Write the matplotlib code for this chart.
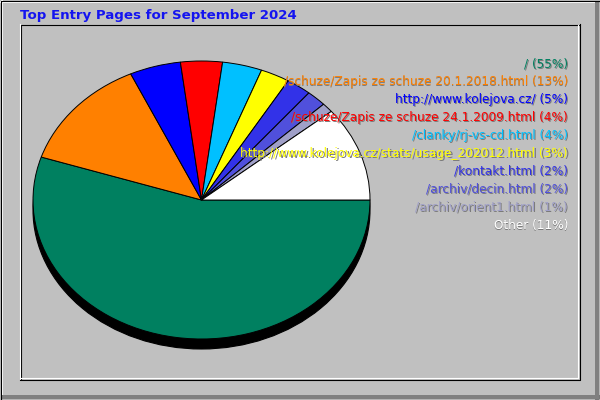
import matplotlib
matplotlib.use("Agg")
import matplotlib.pyplot as plt
from matplotlib.patches import Rectangle, Ellipse

# data
pages = ["/", "/schuze/Zapis ze schuze 20.1.2018.html", "http://www.kolejova.cz/",
         "/schuze/Zapis ze schuze 24.1.2009.html", "/clanky/rj-vs-cd.html",
         "http://www.kolejova.cz/stats/usage_202012.html", "/kontakt.html",
         "/archiv/decin.html", "/archiv/orient1.html", "Other"]
shares = [55.0, 13.1, 4.9, 4.0, 3.8, 2.8, 2.4, 1.9, 1.1, 11.0]
title = "Top Entry Pages for September 2024"

colors = ["#008060", "#FF8000", "#0000FF", "#FF0000", "#00C0FF",
          "#FFFF00", "#3232E8", "#5050DC", "#A0A0C8", "#FFFFFF"]

W, H = 600, 400
fig = plt.figure(figsize=(6, 4), dpi=100)
fig.patch.set_facecolor("#C0C0C0")

bg = fig.add_axes([0, 0, 1, 1])
bg.set_xlim(0, W)
bg.set_ylim(H, 0)
bg.axis("off")

# outer 3d frame
bg.add_patch(Rectangle((0, 0), W, H, facecolor="#C0C0C0", edgecolor="none"))
bg.add_patch(Rectangle((0, 1), W - 1, 1.5, facecolor="white", edgecolor="none"))
bg.add_patch(Rectangle((1, 0), 1.5, H - 1, facecolor="white", edgecolor="none"))
bg.add_patch(Rectangle((595, 2), 4, H - 2, facecolor="#808080", edgecolor="none"))
bg.add_patch(Rectangle((2, 395), W - 2, 4, facecolor="#808080", edgecolor="none"))
bg.plot([0.5, W - 0.5, W - 0.5, 0.5, 0.5], [0.5, 0.5, H - 0.5, H - 0.5, 0.5],
        color="black", lw=0.8)

# inner panel
bg.plot([20.5, 20.5, 578.5], [378.5, 24.5, 24.5], color="black", lw=0.8)
bg.plot([19.5, 19.5], [24, 379.5], color="white", lw=0.8)
bg.plot([577.5, 577.5, 20.5], [25, 377.5, 377.5], color="white", lw=0.8)
bg.plot([579.5, 579.5, 19.5], [24, 379.5, 379.5], color="black", lw=0.8)

bg.text(20, 15, title, color="#1414F0", fontsize=9.6, fontweight="bold",
        ha="left", va="center")

# pie geometry in pixels
cx, cy, rx, ry = 201.5, 200, 168.5, 139
bg.add_patch(Ellipse((cx, cy + 10), 2 * rx, 2 * ry, facecolor="black",
                     edgecolor="black", lw=0.8))

pie_ax = fig.add_axes([(cx - rx) / W, 1 - (cy + ry) / H, 2 * rx / W, 2 * ry / H])
pie_ax.pie(shares, colors=colors, startangle=0, counterclock=False,
           wedgeprops=dict(edgecolor="black", linewidth=0.7))
pie_ax.set_aspect("auto")
pie_ax.set_xlim(-1, 1)
pie_ax.set_ylim(-1, 1)
pie_ax.axis("off")

# legend text with drop shadow, drawn above the pie
txt_ax = fig.add_axes([0, 0, 1, 1])
txt_ax.set_xlim(0, W)
txt_ax.set_ylim(H, 0)
txt_ax.axis("off")
for i, (p, s, c) in enumerate(zip(pages, shares, colors)):
    y = 64 + i * 17.9
    label = f"{p} ({round(s)}%)"
    txt_ax.text(569, y + 1, label, color="#7A7A7A", fontsize=8.7,
                ha="right", va="center")
    txt_ax.text(568, y, label, color=c, fontsize=8.7,
                ha="right", va="center")

fig.savefig("out.png", dpi=100, facecolor=fig.get_facecolor())
